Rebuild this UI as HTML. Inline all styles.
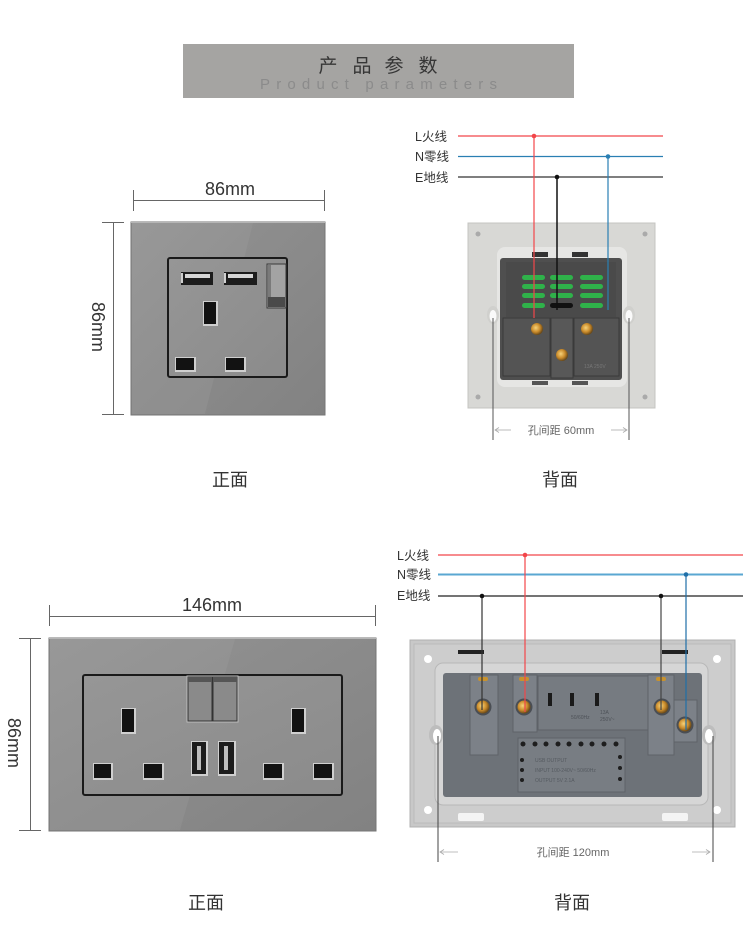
<!DOCTYPE html>
<html><head><meta charset="utf-8"><style>
html,body{margin:0;padding:0;background:#fff;}
svg{display:block;}
text{font-family:"Liberation Sans","Noto Sans CJK SC",sans-serif;}
</style></head><body>
<svg width="750" height="947" viewBox="0 0 750 947" xmlns="http://www.w3.org/2000/svg">
<defs>
<linearGradient id="plate" x1="0" y1="0" x2="1" y2="1">
<stop offset="0" stop-color="#939393"/><stop offset="1" stop-color="#828282"/>
</linearGradient>
<linearGradient id="inner" x1="0" y1="0" x2="1" y2="1">
<stop offset="0" stop-color="#969696"/><stop offset="1" stop-color="#8b8b8b"/>
</linearGradient>
<radialGradient id="brass" cx="0.4" cy="0.4" r="0.6">
<stop offset="0" stop-color="#f6d27a"/><stop offset="0.6" stop-color="#c98a2a"/><stop offset="1" stop-color="#6a4a1a"/>
</radialGradient>
</defs>

<!-- Header -->
<rect x="183" y="44" width="391" height="54" fill="#a5a4a2"/>
<g font-size="19" fill="#363636" text-anchor="middle">
<text x="328" y="72">产</text><text x="362" y="72">品</text><text x="394" y="72">参</text><text x="428" y="72">数</text>
</g>
<text x="260" y="89" font-size="15" fill="#8b8b8b" textLength="237" lengthAdjust="spacing">Product parameters</text>

<!-- ===== Top-left front ===== -->
<g stroke="#666" stroke-width="1">
<line x1="133" y1="200.5" x2="325" y2="200.5"/>
<line x1="133.5" y1="190" x2="133.5" y2="211"/>
<line x1="324.5" y1="190" x2="324.5" y2="211"/>
<line x1="113.5" y1="222" x2="113.5" y2="415"/>
<line x1="102" y1="222.5" x2="124" y2="222.5"/>
<line x1="102" y1="414.5" x2="124" y2="414.5"/>
</g>
<text x="230" y="195" font-size="18" fill="#333" text-anchor="middle">86mm</text>
<text x="0" y="0" font-size="18" fill="#333" text-anchor="middle" transform="translate(92,327) rotate(90)">86mm</text>

<rect x="131" y="222" width="194" height="193" fill="url(#plate)" stroke="#767676"/>
<polygon points="132,223 253,223 205,414 132,414" fill="#fff" opacity="0.05"/>
<line x1="131" y1="222.5" x2="325" y2="222.5" stroke="#b5b5b5"/>
<rect x="168" y="258" width="119" height="119" rx="2" fill="url(#inner)" stroke="#1a1a1a" stroke-width="2"/>
<!-- USB -->
<rect x="181" y="272" width="32" height="13" fill="#1c1c1c"/>
<rect x="185" y="274" width="25" height="4" fill="#d6d6d6"/>
<rect x="181" y="273" width="2" height="10" fill="#cfcfcf"/>
<rect x="224" y="272" width="33" height="13" fill="#1c1c1c"/>
<rect x="228" y="274" width="25" height="4" fill="#d6d6d6"/>
<rect x="224" y="273" width="2" height="10" fill="#cfcfcf"/>
<!-- switch -->
<rect x="267" y="264" width="19" height="44" fill="#a3a3a3" stroke="#3a3a3a"/>
<rect x="268" y="297" width="17" height="10" fill="#4a4a4a"/>
<rect x="268" y="265" width="3" height="32" fill="#7a7a7a"/>
<!-- slots -->
<rect x="203" y="301" width="15" height="25" fill="#cfcfcf"/>
<rect x="204" y="302" width="12" height="22" fill="#121212"/>
<rect x="175" y="357" width="21" height="15" fill="#cfcfcf"/>
<rect x="176" y="358" width="18" height="12" fill="#121212"/>
<rect x="225" y="357" width="21" height="15" fill="#cfcfcf"/>
<rect x="226" y="358" width="18" height="12" fill="#121212"/>

<text x="230" y="486" font-size="18" fill="#333" text-anchor="middle">正面</text>

<!-- ===== Top-right back ===== -->
<g font-size="12.5" fill="#333">
<text x="415" y="141">L火线</text>
<text x="415" y="161">N零线</text>
<text x="415" y="182">E地线</text>
</g>
<line x1="458" y1="136" x2="663" y2="136" stroke="#f2464a" stroke-width="1.2"/>
<line x1="458" y1="156.5" x2="663" y2="156.5" stroke="#2a7fb3" stroke-width="1.2"/>
<line x1="458" y1="177" x2="663" y2="177" stroke="#333" stroke-width="1.2"/>

<!-- back plate -->
<rect x="468" y="223" width="187" height="185" fill="#d8d8d5" stroke="#c4c4c1"/>
<rect x="497" y="247" width="130" height="140" rx="8" fill="#e6e6e4"/>
<circle cx="478" cy="234" r="2.5" fill="#aaa"/><circle cx="645" cy="234" r="2.5" fill="#aaa"/>
<circle cx="478" cy="397" r="2.5" fill="#aaa"/><circle cx="645" cy="397" r="2.5" fill="#aaa"/>
<rect x="532" y="252" width="16" height="5" fill="#333"/><rect x="572" y="252" width="16" height="5" fill="#333"/>
<rect x="532" y="381" width="16" height="4" fill="#555"/><rect x="572" y="381" width="16" height="4" fill="#555"/>
<ellipse cx="493" cy="315" rx="6" ry="9" fill="#d0d0cd"/>
<ellipse cx="493" cy="316" rx="3.5" ry="6" fill="#fafafa"/>
<ellipse cx="629" cy="315" rx="6" ry="9" fill="#d0d0cd"/>
<ellipse cx="629" cy="316" rx="3.5" ry="6" fill="#fafafa"/>
<!-- module -->
<rect x="500" y="258" width="122" height="122" rx="3" fill="#4f4f4f"/>
<rect x="506" y="262" width="110" height="55" fill="#4a4a4a"/>
<rect x="503" y="318" width="47" height="58" fill="#545454" stroke="#3a3a3a"/>
<rect x="551" y="318" width="22" height="60" fill="#585858" stroke="#3a3a3a"/>
<rect x="574" y="318" width="45" height="58" fill="#545454" stroke="#3a3a3a"/>
<g fill="#2fb24a">
<rect x="522" y="275" width="23" height="5" rx="2.5"/><rect x="550" y="275" width="23" height="5" rx="2.5"/><rect x="580" y="275" width="23" height="5" rx="2.5"/>
<rect x="522" y="284" width="23" height="5" rx="2.5"/><rect x="550" y="284" width="23" height="5" rx="2.5"/><rect x="580" y="284" width="23" height="5" rx="2.5"/>
<rect x="522" y="293" width="23" height="5" rx="2.5"/><rect x="550" y="293" width="23" height="5" rx="2.5"/><rect x="580" y="293" width="23" height="5" rx="2.5"/>
<rect x="522" y="303" width="23" height="5" rx="2.5"/><rect x="580" y="303" width="23" height="5" rx="2.5"/>
</g>
<rect x="550" y="303" width="23" height="5" rx="2.5" fill="#111"/>
<circle cx="537" cy="329" r="6" fill="url(#brass)"/>
<circle cx="587" cy="329" r="6" fill="url(#brass)"/>
<circle cx="562" cy="355" r="6" fill="url(#brass)"/>
<text x="584" y="368" font-size="5" fill="#777">13A 250V</text>

<!-- wires down -->
<line x1="534" y1="136" x2="534" y2="318" stroke="#f2464a" stroke-width="1.2"/>
<line x1="608" y1="156.5" x2="608" y2="310" stroke="#2a7fb3" stroke-width="1.2"/>
<line x1="557" y1="177" x2="557" y2="310" stroke="#111" stroke-width="1.5"/>
<circle cx="534" cy="136" r="2.3" fill="#f2464a"/>
<circle cx="608" cy="156.5" r="2.3" fill="#2a7fb3"/>
<circle cx="557" cy="177" r="2.3" fill="#111"/>

<!-- dim -->
<line x1="493" y1="318" x2="493" y2="440" stroke="#555" stroke-width="1"/>
<line x1="629" y1="318" x2="629" y2="440" stroke="#555" stroke-width="1"/>
<g stroke="#aaa" stroke-width="0.8" fill="none">
<line x1="495" y1="430" x2="511" y2="430"/><polyline points="499,427.5 495,430 499,432.5"/>
<line x1="611" y1="430" x2="627" y2="430"/><polyline points="623,427.5 627,430 623,432.5"/>
</g>
<text x="561" y="434" font-size="11" fill="#666" text-anchor="middle">孔间距 60mm</text>

<text x="560" y="486" font-size="18" fill="#333" text-anchor="middle">背面</text>

<!-- ===== Bottom-left front ===== -->
<g stroke="#666" stroke-width="1">
<line x1="49" y1="616.5" x2="376" y2="616.5"/>
<line x1="49.5" y1="605" x2="49.5" y2="626"/>
<line x1="375.5" y1="605" x2="375.5" y2="626"/>
<line x1="30.5" y1="638" x2="30.5" y2="831"/>
<line x1="19" y1="638.5" x2="41" y2="638.5"/>
<line x1="19" y1="830.5" x2="41" y2="830.5"/>
</g>
<text x="212" y="611" font-size="18" fill="#333" text-anchor="middle">146mm</text>
<text x="0" y="0" font-size="18" fill="#333" text-anchor="middle" transform="translate(8,743) rotate(90)">86mm</text>

<rect x="49" y="638" width="327" height="193" fill="url(#plate)" stroke="#767676"/>
<polygon points="50,639 235,639 180,830 50,830" fill="#fff" opacity="0.05"/>
<line x1="49" y1="638.5" x2="376" y2="638.5" stroke="#b5b5b5"/>
<rect x="83" y="675" width="259" height="120" rx="2" fill="url(#inner)" stroke="#1a1a1a" stroke-width="2"/>
<!-- switches -->
<rect x="187" y="676" width="51" height="46" fill="#8e8e8e" stroke="#bdbdbd"/>
<rect x="188" y="677" width="24" height="44" fill="#8a8a8a" stroke="#333"/>
<rect x="213" y="677" width="24" height="44" fill="#8a8a8a" stroke="#333"/>
<rect x="188" y="677" width="24" height="5" fill="#555"/>
<rect x="213" y="677" width="24" height="5" fill="#555"/>
<!-- earth slots -->
<rect x="121" y="708" width="15" height="26" fill="#cfcfcf"/>
<rect x="122" y="709" width="12" height="23" fill="#121212"/>
<rect x="291" y="708" width="15" height="26" fill="#cfcfcf"/>
<rect x="292" y="709" width="12" height="23" fill="#121212"/>
<!-- usb vertical -->
<rect x="191" y="741" width="17" height="35" fill="#d0d0d0"/>
<rect x="192" y="742" width="14" height="32" fill="#1c1c1c"/>
<rect x="197" y="746" width="4" height="24" fill="#bdbdbd"/>
<rect x="218" y="741" width="18" height="35" fill="#d0d0d0"/>
<rect x="219" y="742" width="15" height="32" fill="#1c1c1c"/>
<rect x="224" y="746" width="4" height="24" fill="#bdbdbd"/>
<!-- bottom slots -->
<rect x="93" y="763" width="20" height="17" fill="#cfcfcf"/><rect x="94" y="764" width="17" height="14" fill="#121212"/>
<rect x="143" y="763" width="21" height="17" fill="#cfcfcf"/><rect x="144" y="764" width="18" height="14" fill="#121212"/>
<rect x="263" y="763" width="21" height="17" fill="#cfcfcf"/><rect x="264" y="764" width="18" height="14" fill="#121212"/>
<rect x="313" y="763" width="21" height="17" fill="#cfcfcf"/><rect x="314" y="764" width="18" height="14" fill="#121212"/>

<text x="206" y="909" font-size="18" fill="#333" text-anchor="middle">正面</text>

<!-- ===== Bottom-right back ===== -->
<g font-size="12.5" fill="#333">
<text x="397" y="560">L火线</text>
<text x="397" y="579">N零线</text>
<text x="397" y="600">E地线</text>
</g>
<line x1="438" y1="555" x2="743" y2="555" stroke="#f2464a" stroke-width="1.2"/>
<line x1="438" y1="574.5" x2="743" y2="574.5" stroke="#5aa7d2" stroke-width="2"/>
<line x1="438" y1="596" x2="743" y2="596" stroke="#222" stroke-width="1.2"/>

<!-- plate -->
<rect x="410" y="640" width="325" height="187" fill="#c8c8c8" stroke="#b0b0b0"/>
<rect x="414" y="644" width="317" height="179" fill="#cdcdcd" stroke="#bababa"/>
<rect x="435" y="663" width="273" height="142" rx="8" fill="#d6d6d6" stroke="#b8b8b8"/>
<circle cx="428" cy="659" r="4" fill="#fff"/><circle cx="717" cy="659" r="4" fill="#fff"/>
<circle cx="428" cy="810" r="4" fill="#fff"/><circle cx="717" cy="810" r="4" fill="#fff"/>
<rect x="458" y="650" width="26" height="4" fill="#222"/><rect x="662" y="650" width="26" height="4" fill="#222"/>
<rect x="458" y="813" width="26" height="8" rx="2" fill="#f4f4f4"/><rect x="662" y="813" width="26" height="8" rx="2" fill="#f4f4f4"/>
<ellipse cx="436" cy="735" rx="7" ry="10" fill="#bdbdbd"/><ellipse cx="437" cy="736" rx="4" ry="7" fill="#fff"/>
<ellipse cx="709" cy="735" rx="7" ry="10" fill="#bdbdbd"/><ellipse cx="709" cy="736" rx="4" ry="7" fill="#fff"/>
<!-- module -->
<rect x="443" y="673" width="259" height="124" rx="3" fill="#6d7278"/>
<rect x="538" y="676" width="110" height="54" fill="#767b81" stroke="#5e6268"/>
<rect x="548" y="693" width="4" height="13" fill="#1a1a1a"/>
<rect x="570" y="693" width="4" height="13" fill="#1a1a1a"/>
<rect x="595" y="693" width="4" height="13" fill="#1a1a1a"/>
<text x="571" y="719" font-size="5" fill="#4e5258">50/60Hz</text>
<text x="600" y="714" font-size="5" fill="#4e5258">13A</text>
<text x="600" y="721" font-size="5" fill="#4e5258">250V~</text>
<rect x="470" y="675" width="28" height="80" fill="#7c8188" stroke="#5e6268"/>
<rect x="513" y="675" width="24" height="57" fill="#7c8188" stroke="#5e6268"/>
<rect x="648" y="675" width="26" height="80" fill="#7c8188" stroke="#5e6268"/>
<rect x="674" y="700" width="23" height="42" fill="#7c8188" stroke="#5e6268"/>
<rect x="478" y="677" width="10" height="4" rx="2" fill="#c8922e"/>
<rect x="519" y="677" width="10" height="4" rx="2" fill="#c8922e"/>
<rect x="656" y="677" width="10" height="4" rx="2" fill="#c8922e"/>
<circle cx="483" cy="707" r="8.5" fill="#4a4e54"/><circle cx="483" cy="707" r="6.5" fill="url(#brass)"/>
<circle cx="524" cy="707" r="8.5" fill="#4a4e54"/><circle cx="524" cy="707" r="6.5" fill="url(#brass)"/>
<circle cx="662" cy="707" r="8.5" fill="#4a4e54"/><circle cx="662" cy="707" r="6.5" fill="url(#brass)"/>
<circle cx="685" cy="725" r="8.5" fill="#4a4e54"/><circle cx="685" cy="725" r="6.5" fill="url(#brass)"/>
<rect x="518" y="738" width="107" height="54" fill="#787d83" stroke="#5e6268"/>
<g fill="#1e1e1e">
<circle cx="523" cy="744" r="2.5"/><circle cx="535" cy="744" r="2.5"/><circle cx="546" cy="744" r="2.5"/><circle cx="558" cy="744" r="2.5"/><circle cx="569" cy="744" r="2.5"/><circle cx="581" cy="744" r="2.5"/><circle cx="592" cy="744" r="2.5"/><circle cx="604" cy="744" r="2.5"/><circle cx="616" cy="744" r="2.5"/>
<circle cx="522" cy="760" r="2"/><circle cx="522" cy="770" r="2"/><circle cx="522" cy="780" r="2"/>
<circle cx="620" cy="757" r="2"/><circle cx="620" cy="768" r="2"/><circle cx="620" cy="779" r="2"/>
</g>
<g font-size="5" fill="#555a60">
<text x="535" y="762">USB OUTPUT</text>
<text x="535" y="772">INPUT 100-240V~ 50/60Hz</text>
<text x="535" y="782">OUTPUT 5V 2.1A</text>
</g>

<!-- wires -->
<line x1="525" y1="555" x2="525" y2="712" stroke="#f2464a" stroke-width="1.2"/>
<line x1="686" y1="574.5" x2="686" y2="730" stroke="#1f6fa8" stroke-width="1.2"/>
<line x1="482" y1="596" x2="482" y2="710" stroke="#333" stroke-width="1.2"/>
<line x1="661" y1="596" x2="661" y2="710" stroke="#444" stroke-width="1.2"/>
<circle cx="525" cy="555" r="2.3" fill="#f2464a"/>
<circle cx="686" cy="574.5" r="2.3" fill="#1f6fa8"/>
<circle cx="482" cy="596" r="2.3" fill="#111"/>
<circle cx="661" cy="596" r="2.3" fill="#111"/>

<!-- dim -->
<line x1="438" y1="736" x2="438" y2="862" stroke="#444" stroke-width="1"/>
<line x1="713" y1="736" x2="713" y2="862" stroke="#444" stroke-width="1"/>
<g stroke="#aaa" stroke-width="0.8" fill="none">
<line x1="440" y1="852" x2="458" y2="852"/><polyline points="444,849.5 440,852 444,854.5"/>
<line x1="692" y1="852" x2="710" y2="852"/><polyline points="706,849.5 710,852 706,854.5"/>
</g>
<text x="573" y="856" font-size="11" fill="#666" text-anchor="middle">孔间距 120mm</text>

<text x="572" y="909" font-size="18" fill="#333" text-anchor="middle">背面</text>
</svg>
</body></html>
